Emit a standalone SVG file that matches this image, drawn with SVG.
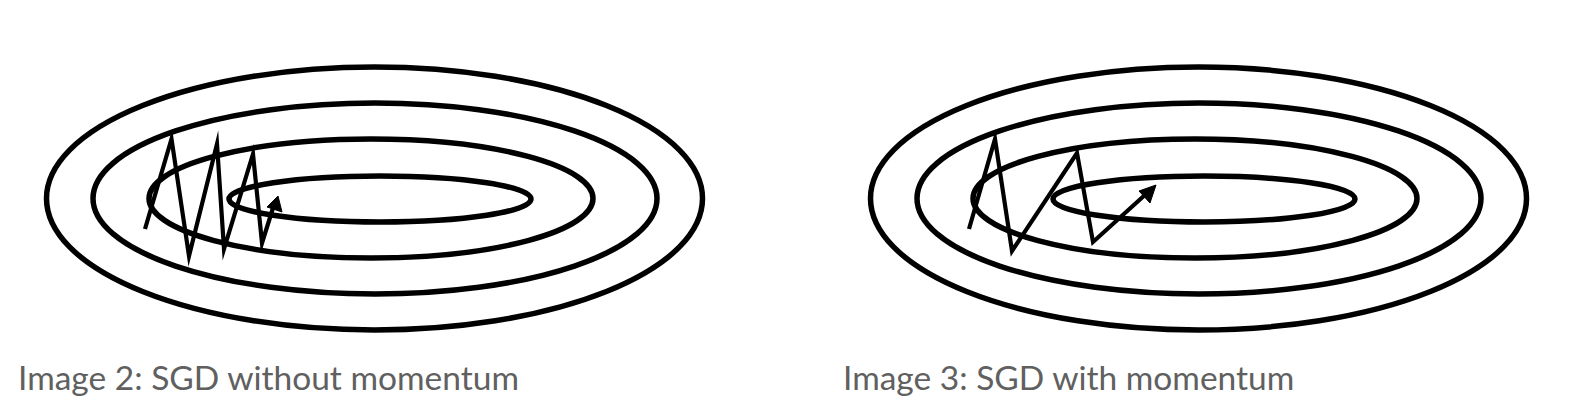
<svg xmlns="http://www.w3.org/2000/svg" width="1592" height="408" viewBox="0 0 1592 408">
  <style>
    .contour { fill: none; stroke: #000; stroke-width: 5.5; }
    .path { fill: none; stroke: #000; stroke-width: 4.2; stroke-linejoin: miter; stroke-miterlimit: 12; }
    .head { fill: #000; stroke: #000; stroke-width: 1; }
    .caption { font-family: "Lato", "Open Sans", sans-serif; font-size: 33.5px; fill: #606060; }
  </style>
  <rect width="1592" height="408" fill="#fff"/>
  <g id="panel-without-momentum">
    <g id="contours-left">
      <ellipse class="contour" cx="374.5" cy="198.5" rx="328" ry="131.5"/>
      <ellipse class="contour" cx="375" cy="198.5" rx="282" ry="95.5"/>
      <ellipse class="contour" cx="371" cy="198.5" rx="222" ry="59.5"/>
      <ellipse class="contour" cx="380" cy="199" rx="151" ry="23"/>
    </g>
    <g id="path-left">
      <polyline class="path" points="145,229 171.5,139 189,256 217,144 224,249 253,154 262,243 273,208"/>
      <polygon class="head" points="278,196 267,207 282,212"/>
    </g>
    <text id="caption-left" class="caption" x="18" y="390">Image 2: SGD without momentum</text>
  </g>
  <g id="panel-with-momentum">
    <g id="contours-right">
      <ellipse class="contour" cx="1198.5" cy="198.5" rx="328" ry="131.5"/>
      <ellipse class="contour" cx="1199" cy="198.5" rx="282" ry="95.5"/>
      <ellipse class="contour" cx="1195" cy="198.5" rx="222" ry="59.5"/>
      <ellipse class="contour" cx="1204" cy="199" rx="151" ry="23"/>
    </g>
    <g id="path-right">
      <polyline class="path" points="969,229 995,139 1012,251 1077,153 1093,242 1146,194"/>
      <polygon class="head" points="1156,185 1139,191 1150,203"/>
    </g>
    <text id="caption-right" class="caption" x="843" y="390">Image 3: SGD with momentum</text>
  </g>
</svg>
